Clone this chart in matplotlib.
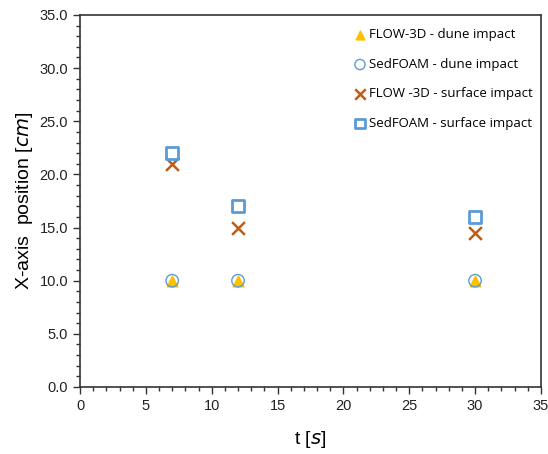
import matplotlib
matplotlib.use("Agg")
import matplotlib.pyplot as plt
from matplotlib.ticker import MultipleLocator, FormatStrFormatter

t = [7, 12, 30]
flow_dune = [10.0, 10.0, 10.0]
sed_dune = [10.0, 10.0, 10.0]
flow_surface = [21.0, 15.0, 14.5]
sed_surface = [22.0, 17.0, 16.0]

labels = ["FLOW-3D - dune impact", "SedFOAM - dune impact",
          "FLOW -3D - surface impact", "SedFOAM - surface impact"]

plt.rcParams['font.family'] = ['Liberation Sans', 'DejaVu Sans']

fig = plt.figure(figsize=(5.48, 4.54), dpi=100)
ax = fig.add_axes([0.146, 0.1476, 0.841, 0.8194])

ax.scatter(t, flow_dune, marker='^', s=60, color='#FFC000', label=labels[0], zorder=3)
ax.scatter(t, sed_dune, marker='o', s=80, facecolors='none', edgecolors='#5B9BD5',
           linewidths=1.0, label=labels[1], zorder=4)
ax.scatter(t, flow_surface, marker='x', s=85, color='#C55A11', linewidths=1.8,
           label=labels[2], zorder=3)
ax.scatter(t, sed_surface, marker='s', s=72, facecolors='none', edgecolors='#5B9BD5',
           linewidths=2, label=labels[3], zorder=3)

ax.set_xlim(0, 35)
ax.set_ylim(0, 35)
ax.xaxis.set_major_locator(MultipleLocator(5))
ax.xaxis.set_minor_locator(MultipleLocator(1))
ax.yaxis.set_major_locator(MultipleLocator(5))
ax.yaxis.set_minor_locator(MultipleLocator(1))
ax.yaxis.set_major_formatter(FormatStrFormatter('%.1f'))
ax.tick_params(which='major', direction='out', length=5, width=1, labelsize=10.5,
               colors='#333333', labelcolor='#222222')
ax.tick_params(which='minor', direction='out', length=3, width=1, colors='#333333')
for sp in ax.spines.values():
    sp.set_linewidth(1.2)
    sp.set_color('#333333')

ax.set_xlabel(r't [$\mathit{s}$]', fontsize=14, labelpad=12)
ax.set_ylabel(r'X-axis  position [$\mathit{cm}$]', fontsize=14, labelpad=3)

leg = ax.legend(loc='upper right', frameon=False, handletextpad=0.1,
                labelspacing=1.25, borderaxespad=0.2, handlelength=1.2,
                bbox_to_anchor=(1.0, 0.985),
                scatterpoints=1, markerscale=0.82, prop={'family': 'Open Sans', 'size': 9.5})

fig.savefig('out.png', dpi=100)
